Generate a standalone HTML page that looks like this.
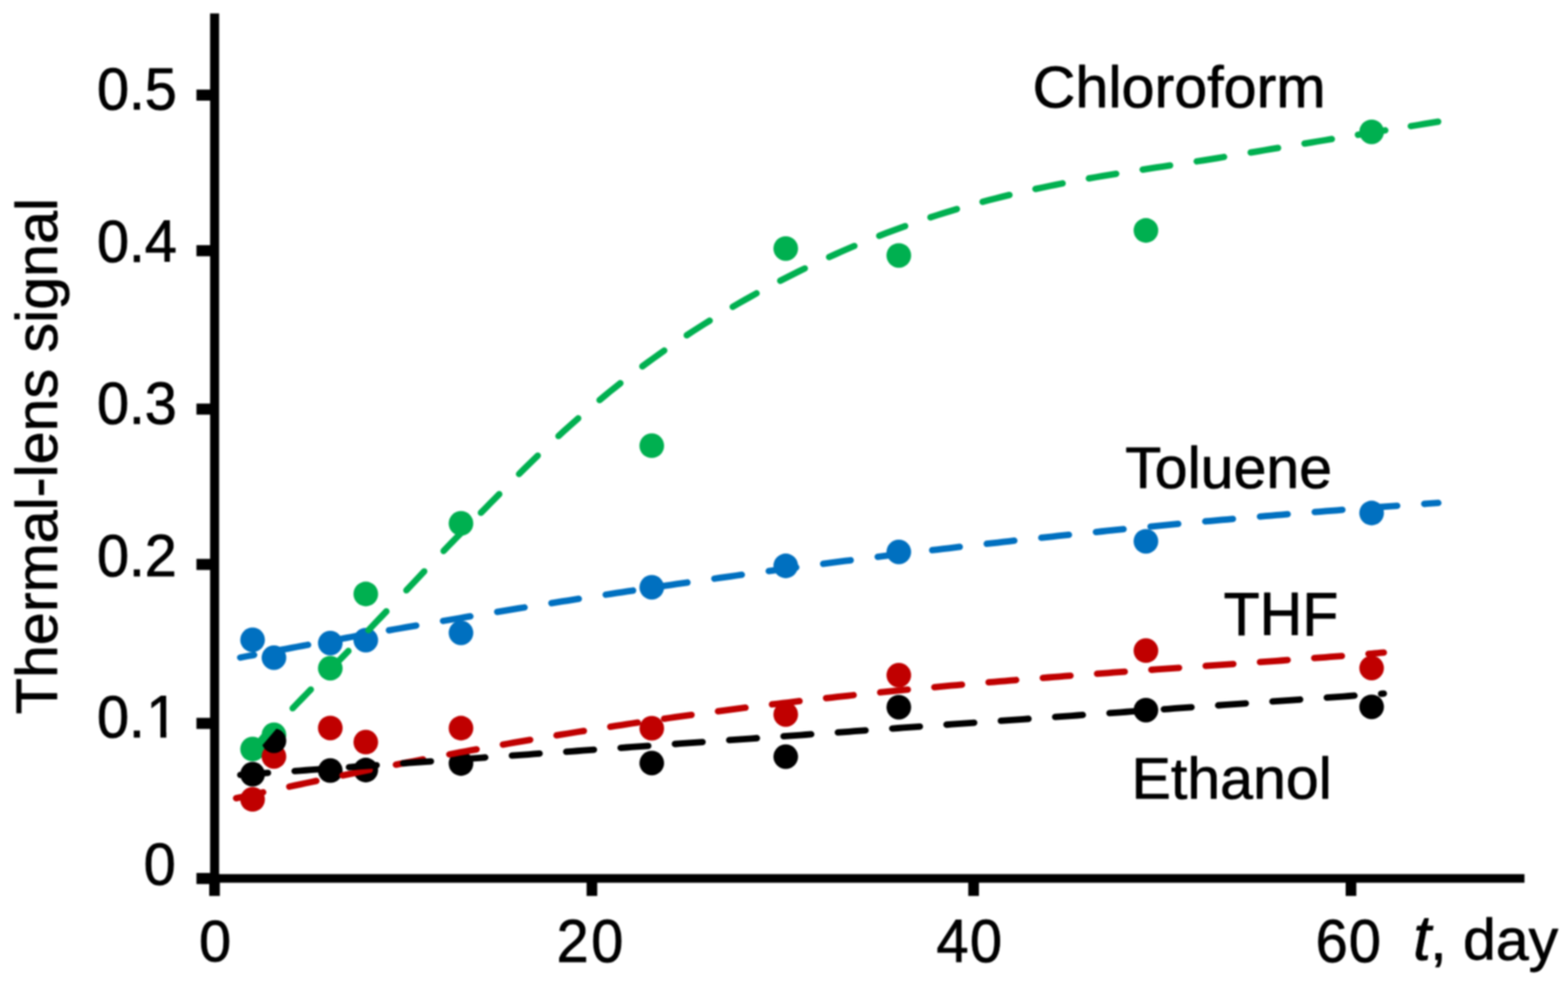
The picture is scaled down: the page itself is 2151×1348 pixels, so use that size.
<!DOCTYPE html>
<html lang="en">
<head>
<meta charset="utf-8">
<title>Thermal-lens signal vs. time</title>
<style>
html,body{margin:0;padding:0;background:#fff;}
body{width:2151px;height:1348px;overflow:hidden;}
svg{display:block;filter:blur(0.8px);}
text{font-family:"Liberation Sans",Arial,Helvetica,sans-serif;font-size:81.0px;fill:#000;stroke:#000;stroke-width:1.0px;stroke-linejoin:round;}
</style>
</head>
<body>
<svg width="2151" height="1348" viewBox="0 0 2151 1348">
<rect x="0" y="0" width="2151" height="1348" fill="#fff"/>
<rect x="288.20" y="18.40" width="12.40" height="1192.10" fill="#000"/>
<rect x="288.20" y="1198.70" width="1803.10" height="11.80" fill="#000"/>
<rect x="269.50" y="122.80" width="19.70" height="15.20" fill="#000"/>
<rect x="269.50" y="336.20" width="19.70" height="15.20" fill="#000"/>
<rect x="269.50" y="553.40" width="19.70" height="15.20" fill="#000"/>
<rect x="269.50" y="766.40" width="19.70" height="15.20" fill="#000"/>
<rect x="269.50" y="984.40" width="19.70" height="15.20" fill="#000"/>
<rect x="269.50" y="1197.10" width="19.70" height="15.20" fill="#000"/>
<rect x="287.00" y="1199.70" width="14.60" height="28.90" fill="#000"/>
<rect x="804.70" y="1199.70" width="14.60" height="28.90" fill="#000"/>
<rect x="1328.30" y="1199.70" width="14.60" height="28.90" fill="#000"/>
<rect x="1846.00" y="1199.70" width="14.60" height="28.90" fill="#000"/>
<clipPath id="nofoot" clipPathUnits="userSpaceOnUse"><path clip-rule="evenodd" d="M-5 -75 H120 V12 H-5 Z M73.15 -7.2 H88.75 V4 H73.15 Z M97.11 -7.2 H112.07 V4 H97.11 Z"/></clipPath>
<text transform="translate(133.00,150.00) scale(0.98,1.01)" letter-spacing="-0.3">0.5</text>
<text transform="translate(133.00,359.10) scale(0.98,1.01)" letter-spacing="-0.3">0.4</text>
<text transform="translate(133.00,580.60) scale(0.98,1.01)" letter-spacing="-0.3">0.3</text>
<text transform="translate(133.00,790.30) scale(0.98,1.01)" letter-spacing="-0.3">0.2</text>
<text transform="translate(133.00,1011.10) scale(0.98,1.01)" x="0.00 44.75 68.98" clip-path="url(#nofoot)">0.1</text>
<text transform="translate(197.00,1213.40) scale(0.98,1.0)">0</text>
<text transform="translate(272.90,1317.80) scale(0.98,0.985)">0</text>
<text transform="translate(763.40,1319.10) scale(0.98,1.034)" letter-spacing="3.5">20</text>
<text transform="translate(1284.60,1318.60) scale(0.98,1.025)" letter-spacing="1.7">40</text>
<text transform="translate(1804.80,1319.10) scale(0.98,1.024)" letter-spacing="1.3">60</text>
<text transform="translate(1938.60,1316.40) scale(1.0,0.975)"><tspan font-style="italic" style="font-size:88.5px">t</tspan><tspan dx="-1.2">, day</tspan></text>
<text transform="translate(1416.50,146.90) scale(1.0,0.985)" style="font-size:81.3px">Chloroform</text>
<text transform="translate(1543.60,668.70) scale(1.0,0.985)">Toluene</text>
<text transform="translate(1552.30,1094.80) scale(1.0,0.985)">Ethanol</text>
<text transform="translate(1678.50,870.70) scale(1.0,1.03)">THF</text>
<text transform="translate(77.80,979.40) rotate(-90) scale(1.0,0.985)" style="font-size:81.15px">Thermal-lens signal</text>
<g fill="#00B050"><circle cx="346.5" cy="1027.2" r="16.9"/><circle cx="375.8" cy="1007.7" r="16.9"/><circle cx="453.1" cy="916.4" r="16.9"/><circle cx="501.8" cy="814.5" r="16.9"/><circle cx="632.4" cy="717.7" r="16.9"/><circle cx="894.1" cy="611.2" r="16.9"/><circle cx="1077.9" cy="340.8" r="16.9"/><circle cx="1233.0" cy="350.3" r="16.9"/><circle cx="1572.0" cy="316.0" r="16.9"/><circle cx="1881.6" cy="180.8" r="16.9"/></g>
<g fill="#0070C0"><circle cx="346.5" cy="877.4" r="16.9"/><circle cx="375.8" cy="901.9" r="16.9"/><circle cx="453.1" cy="881.9" r="16.9"/><circle cx="501.8" cy="877.9" r="16.9"/><circle cx="632.4" cy="867.9" r="16.9"/><circle cx="894.1" cy="805.4" r="16.9"/><circle cx="1077.9" cy="776.0" r="16.9"/><circle cx="1233.0" cy="756.9" r="16.9"/><circle cx="1572.0" cy="742.3" r="16.9"/><circle cx="1881.6" cy="703.5" r="16.9"/></g>
<g fill="#C00000"><circle cx="346.5" cy="1096.2" r="16.9"/><circle cx="375.8" cy="1037.4" r="16.9"/><circle cx="453.1" cy="998.3" r="16.9"/><circle cx="501.8" cy="1017.7" r="16.9"/><circle cx="632.4" cy="998.5" r="16.9"/><circle cx="894.1" cy="998.7" r="16.9"/><circle cx="1077.9" cy="979.8" r="16.9"/><circle cx="1233.0" cy="925.9" r="16.9"/><circle cx="1572.0" cy="892.2" r="16.9"/><circle cx="1881.6" cy="916.1" r="16.9"/></g>
<g fill="#000000"><circle cx="346.5" cy="1061.7" r="16.9"/><circle cx="375.8" cy="1015.9" r="16.9"/><circle cx="453.1" cy="1056.7" r="16.9"/><circle cx="501.8" cy="1056.0" r="16.9"/><circle cx="632.4" cy="1047.0" r="16.9"/><circle cx="894.1" cy="1046.4" r="16.9"/><circle cx="1077.9" cy="1037.6" r="16.9"/><circle cx="1233.0" cy="969.8" r="16.9"/><circle cx="1572.0" cy="973.8" r="16.9"/><circle cx="1881.6" cy="969.3" r="16.9"/></g>
<path d="M323.89 1094.62 L331.31 1092.99 L338.73 1091.36 L346.16 1089.73 L353.58 1088.11 L361.01 1086.49 M396.85 1078.75 L404.28 1077.17 L411.71 1075.58 L419.15 1074.00 L426.58 1072.43 L434.02 1070.87 M469.92 1063.39 L477.36 1061.86 L484.80 1060.33 L492.25 1058.81 L499.70 1057.29 L507.15 1055.79 M543.10 1048.61 L550.56 1047.14 L558.02 1045.68 L565.48 1044.22 L572.94 1042.77 L580.40 1041.33 M616.42 1034.48 L623.89 1033.09 L631.36 1031.70 L638.83 1030.31 L646.31 1028.94 L653.79 1027.57 M689.87 1021.08 L697.36 1019.76 L704.84 1018.44 L712.33 1017.14 L719.82 1015.84 L727.31 1014.55 M763.46 1008.44 L770.96 1007.20 L778.46 1005.97 L785.96 1004.74 L793.46 1003.52 L800.96 1002.31 M837.18 996.60 L844.69 995.44 L852.20 994.29 L859.71 993.15 L867.23 992.01 L874.75 990.89 M911.02 985.57 L918.55 984.50 L926.07 983.43 L933.60 982.37 L941.12 981.32 L948.65 980.28 M984.99 975.37 L992.52 974.37 L1000.06 973.39 L1007.60 972.41 L1015.13 971.44 L1022.67 970.48 M1059.06 965.97 L1066.60 965.06 L1074.15 964.15 L1081.70 963.26 L1089.24 962.37 L1096.79 961.49 M1133.22 957.35 L1140.78 956.52 L1148.33 955.69 L1155.89 954.87 L1163.45 954.06 L1171.00 953.25 M1207.47 949.47 L1215.03 948.71 L1222.60 947.95 L1230.16 947.20 L1237.72 946.46 L1245.29 945.73 M1281.79 942.27 L1289.36 941.57 L1296.92 940.88 L1304.49 940.19 L1312.06 939.51 L1319.63 938.84 M1356.16 935.67 L1363.73 935.03 L1371.31 934.39 L1378.88 933.76 L1386.46 933.14 L1394.03 932.51 M1430.58 929.58 L1438.15 928.99 L1445.73 928.40 L1453.31 927.81 L1460.89 927.22 L1468.46 926.65 M1505.03 923.90 L1512.60 923.34 L1520.18 922.78 L1527.76 922.22 L1535.34 921.67 L1542.92 921.12 M1579.49 918.49 L1587.08 917.95 L1594.66 917.41 L1602.24 916.87 L1609.82 916.34 L1617.40 915.80 M1653.97 913.22 L1661.55 912.69 L1669.14 912.15 L1676.72 911.62 L1684.30 911.08 L1691.88 910.55 M1728.45 907.94 L1736.03 907.40 L1743.61 906.85 L1751.19 906.30 L1758.77 905.75 L1766.35 905.19 M1802.92 902.47 L1810.49 901.90 L1818.07 901.32 L1825.65 900.73 L1833.23 900.15 L1840.80 899.55 M1877.35 896.63 L1881.54 896.28 L1885.73 895.94 L1889.92 895.59 L1894.11 895.24 L1898.30 894.89" fill="none" stroke="#C00000" stroke-width="8.8" stroke-linecap="round" stroke-linejoin="round"/>
<path d="M329.67 1062.63 L337.25 1062.09 L344.83 1061.55 L352.41 1061.01 L359.99 1060.48 L367.57 1059.94 M404.19 1057.33 L411.77 1056.79 L419.36 1056.26 L426.94 1055.72 L434.52 1055.18 L442.10 1054.64 M478.72 1052.03 L486.30 1051.50 L493.88 1050.96 L501.46 1050.42 L509.04 1049.88 L516.62 1049.34 M553.24 1046.74 L560.82 1046.20 L568.40 1045.66 L575.98 1045.12 L583.57 1044.58 L591.15 1044.04 M627.77 1041.44 L635.35 1040.90 L642.93 1040.36 L650.51 1039.82 L658.09 1039.28 L665.67 1038.74 M702.29 1036.14 L709.87 1035.60 L717.45 1035.06 L725.03 1034.52 L732.61 1033.98 L740.19 1033.44 M776.81 1030.84 L784.39 1030.30 L791.98 1029.76 L799.56 1029.22 L807.14 1028.69 L814.72 1028.15 M851.34 1025.54 L858.92 1025.00 L866.50 1024.47 L874.08 1023.93 L881.66 1023.39 L889.24 1022.85 M925.86 1020.24 L933.44 1019.71 L941.02 1019.17 L948.60 1018.63 L956.18 1018.09 L963.77 1017.55 M1000.39 1014.95 L1007.97 1014.41 L1015.55 1013.87 L1023.13 1013.33 L1030.71 1012.79 L1038.29 1012.25 M1074.91 1009.65 L1082.49 1009.11 L1090.07 1008.57 L1097.65 1008.03 L1105.23 1007.49 L1112.81 1006.95 M1149.43 1004.35 L1157.01 1003.81 L1164.59 1003.27 L1172.18 1002.73 L1179.76 1002.19 L1187.34 1001.65 M1223.96 999.05 L1231.54 998.51 L1239.12 997.97 L1246.70 997.43 L1254.28 996.90 L1261.86 996.36 M1298.48 993.75 L1306.06 993.21 L1313.64 992.67 L1321.22 992.14 L1328.80 991.60 L1336.38 991.06 M1373.00 988.45 L1380.59 987.92 L1388.17 987.38 L1395.75 986.84 L1403.33 986.30 L1410.91 985.76 M1447.53 983.16 L1455.11 982.62 L1462.69 982.08 L1470.27 981.54 L1477.85 981.00 L1485.43 980.46 M1522.05 977.86 L1529.63 977.32 L1537.21 976.78 L1544.79 976.24 L1552.38 975.70 L1559.96 975.16 M1596.58 972.56 L1604.16 972.02 L1611.74 971.48 L1619.32 970.94 L1626.90 970.40 L1634.48 969.86 M1671.10 967.26 L1678.68 966.72 L1686.26 966.18 L1693.84 965.64 L1701.42 965.11 L1709.00 964.57 M1745.62 961.96 L1753.20 961.42 L1760.79 960.88 L1768.37 960.35 L1775.95 959.81 L1783.53 959.27 M1820.15 956.66 L1827.73 956.13 L1835.31 955.59 L1842.89 955.05 L1850.47 954.51 L1858.05 953.97 M1894.67 951.37 L1895.40 951.31 L1896.12 951.26 L1896.85 951.21 L1897.57 951.16 L1898.30 951.11" fill="none" stroke="#000000" stroke-width="8.8" stroke-linecap="round" stroke-linejoin="round"/>
<path d="M329.50 901.73 L333.31 901.00 L337.13 900.28 L340.94 899.55 L344.75 898.83 L348.57 898.11 M385.27 891.20 L392.74 889.81 L400.21 888.42 L407.68 887.04 L415.16 885.66 L422.63 884.28 M459.37 877.58 L466.84 876.22 L474.32 874.87 L481.80 873.53 L489.29 872.19 L496.77 870.85 M533.54 864.35 L541.02 863.04 L548.51 861.73 L556.00 860.42 L563.49 859.13 L570.98 857.83 M607.78 851.52 L615.27 850.25 L622.77 848.99 L630.26 847.72 L637.76 846.46 L645.25 845.21 M682.09 839.10 L689.59 837.87 L697.09 836.65 L704.60 835.42 L712.10 834.21 L719.60 832.99 M756.47 827.09 L763.98 825.90 L771.49 824.71 L778.99 823.53 L786.50 822.35 L794.01 821.18 M830.92 815.48 L838.43 814.33 L845.94 813.19 L853.46 812.05 L860.97 810.91 L868.49 809.78 M905.42 804.28 L912.94 803.17 L920.46 802.07 L927.98 800.97 L935.50 799.87 L943.02 798.78 M979.99 793.49 L987.51 792.42 L995.04 791.36 L1002.56 790.30 L1010.09 789.25 L1017.62 788.20 M1054.61 783.11 L1062.14 782.08 L1069.67 781.06 L1077.21 780.05 L1084.74 779.03 L1092.27 778.03 M1129.29 773.14 L1136.83 772.16 L1144.37 771.18 L1151.90 770.20 L1159.44 769.23 L1166.98 768.27 M1204.03 763.58 L1211.57 762.64 L1219.11 761.71 L1226.65 760.77 L1234.20 759.85 L1241.74 758.92 M1278.81 754.44 L1286.36 753.54 L1293.91 752.65 L1301.46 751.76 L1309.00 750.87 L1316.55 749.99 M1353.65 745.72 L1361.20 744.86 L1368.75 744.01 L1376.31 743.16 L1383.86 742.32 L1391.41 741.48 M1428.53 737.41 L1436.09 736.59 L1443.65 735.78 L1451.20 734.98 L1458.76 734.18 L1466.32 733.38 M1503.46 729.52 L1511.02 728.75 L1518.58 727.98 L1526.14 727.21 L1533.71 726.45 L1541.27 725.70 M1578.43 722.05 L1586.00 721.32 L1593.56 720.59 L1601.13 719.87 L1608.69 719.15 L1616.26 718.44 M1653.45 714.99 L1661.01 714.31 L1668.58 713.62 L1676.15 712.94 L1683.72 712.27 L1691.29 711.60 M1728.50 708.36 L1736.07 707.72 L1743.64 707.08 L1751.21 706.44 L1758.79 705.81 L1766.36 705.18 M1803.58 702.15 L1811.16 701.55 L1818.73 700.95 L1826.31 700.36 L1833.89 699.77 L1841.47 699.18 M1878.70 696.36 L1886.28 695.80 L1893.86 695.25 L1901.44 694.70 L1909.02 694.15 L1916.60 693.60 M1953.85 691.00 L1957.70 690.73 L1961.55 690.47 L1965.40 690.21 L1969.25 689.95 L1973.10 689.69" fill="none" stroke="#0070C0" stroke-width="8.8" stroke-linecap="round" stroke-linejoin="round"/>
<path d="M348.8 1026.9 L375.6 995.3" fill="none" stroke="#00B050" stroke-width="10.6" stroke-linecap="butt"/>
<path d="M401.50 971.21 L407.69 964.80 L413.90 958.39 L420.14 951.97 L426.40 945.55 M453.02 918.32 L459.23 911.95 L465.46 905.55 L471.70 899.13 L477.94 892.69 M505.40 864.17 L511.56 857.74 L517.72 851.29 L523.88 844.84 L530.04 838.38 M557.50 809.44 L563.64 802.95 L569.76 796.47 L575.87 790.00 L581.96 783.54 M608.56 755.52 L614.77 749.04 L620.99 742.60 L627.21 736.21 L633.43 729.84 M659.75 703.15 L666.00 696.81 L672.27 690.45 L678.55 684.05 L684.86 677.62 M712.07 650.01 L718.42 643.66 L724.80 637.34 L731.21 631.05 L737.66 624.79 M766.14 597.96 L772.84 591.84 L779.58 585.75 L786.35 579.71 L793.15 573.71 M822.55 548.60 L829.62 542.76 L836.72 536.96 L843.86 531.22 L851.04 525.52 M881.21 502.41 L888.67 496.91 L896.15 491.46 L903.67 486.08 L911.22 480.75 M942.11 459.79 L949.91 454.69 L957.76 449.64 L965.63 444.65 L973.54 439.72 M1005.18 420.72 L1013.30 416.03 L1021.45 411.39 L1029.63 406.81 L1037.84 402.27 M1070.34 385.00 L1078.72 380.72 L1087.13 376.48 L1095.56 372.30 L1104.03 368.17 M1137.43 352.49 L1146.04 348.62 L1154.68 344.79 L1163.34 341.03 L1172.03 337.32 M1206.21 323.39 L1215.04 319.96 L1223.89 316.59 L1232.76 313.29 L1241.65 310.04 M1276.45 298.04 L1285.47 295.11 L1294.51 292.24 L1303.57 289.44 L1312.65 286.71 M1347.94 276.75 L1357.12 274.32 L1366.31 271.95 L1375.51 269.63 L1384.73 267.38 M1420.46 259.17 L1429.75 257.18 L1439.04 255.23 L1448.34 253.32 L1457.66 251.46 M1493.75 244.69 L1503.11 243.04 L1512.47 241.43 L1521.83 239.86 L1531.21 238.31 M1567.57 232.57 L1576.96 231.13 L1586.35 229.70 L1595.74 228.28 L1605.13 226.86 M1641.68 221.27 L1651.06 219.80 L1660.44 218.31 L1669.82 216.80 L1679.20 215.26 M1715.77 209.15 L1725.14 207.57 L1734.51 205.99 L1743.87 204.42 L1753.23 202.86 M1789.55 196.85 L1798.93 195.31 L1808.31 193.77 L1817.68 192.24 L1827.04 190.71 M1862.83 184.88 L1872.22 183.35 L1881.60 181.82 L1890.97 180.29 L1900.33 178.76 M1935.38 173.02 L1944.77 171.47 L1954.15 169.92 L1963.51 168.37 L1972.86 166.82" fill="none" stroke="#00B050" stroke-width="8.8" stroke-linecap="round" stroke-linejoin="round"/>
</svg>
</body>
</html>
